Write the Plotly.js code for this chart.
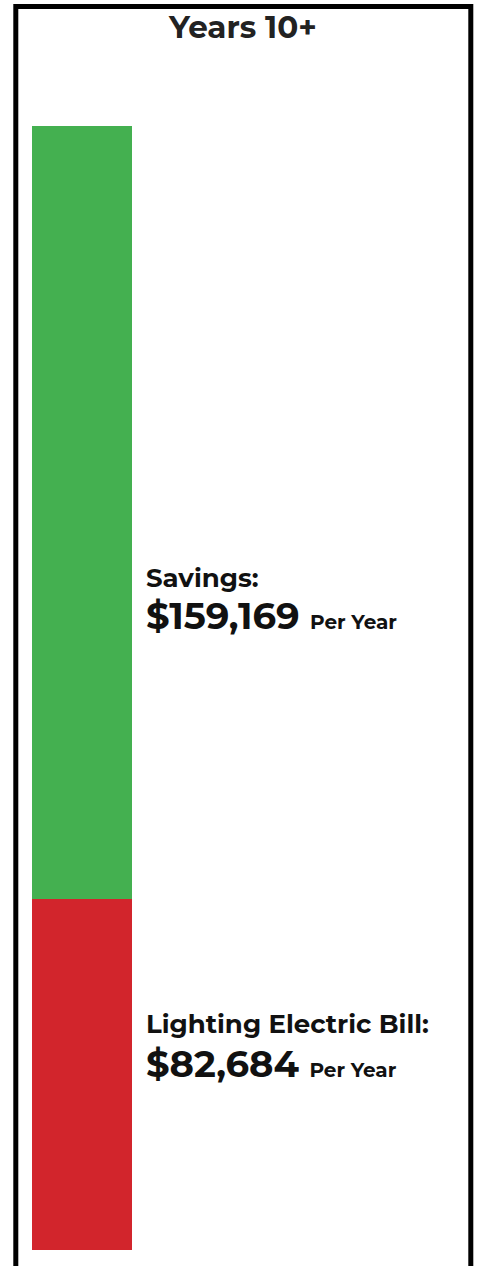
<!DOCTYPE html>
<html>
<head>
<meta charset="utf-8">
<script src="https://cdn.plot.ly/plotly-3.0.1.min.js"></script>
<style>
html,body{margin:0;padding:0;background:#fff;}
#chart{width:478px;height:1266px;}
</style>
</head>
<body>
<div id="chart"></div>
<script>
// Data
const title = "Years 10+";
const billValues = [82684];
const savingsValues = [159169];
const billLabel = "Lighting Electric Bill:";
const savingsLabel = "Savings:";
const unitLabel = "Per Year";

const FONT = "Montserrat, Inter, 'Open Sans', sans-serif";
const fmt = v => "$" + v.toLocaleString("en-US");

const xPos = [0];

const traces = [
  {type: "bar", x: xPos, y: billValues, width: 1, marker: {color: "#D2252C"}, hoverinfo: "none", name: billLabel},
  {type: "bar", x: xPos, y: savingsValues, width: 1, marker: {color: "#44B050"}, hoverinfo: "none", name: savingsLabel}
];

const total = billValues[0] + savingsValues[0];

// pixel helpers for plot area (top 126, bottom 1250, left 32, width 400)
const py = p => (1250 - p) / 1124;
const px = p => (p - 32) / 400;

function nameAnn(name, yMid) {
  return {xref: "paper", yref: "paper", x: px(144), y: py(yMid), xanchor: "left", yanchor: "middle",
    text: "<b>" + name + "</b>", showarrow: false, align: "left",
    font: {family: FONT, size: 26, color: "#111"}};
}
function valueAnn(v, yMid) {
  return {xref: "paper", yref: "paper", x: px(144), y: py(yMid), xanchor: "left", yanchor: "middle",
    text: "<b>" + fmt(v) + " <span style='font-size:20px'>" + unitLabel + "</span></b>", showarrow: false, align: "left",
    font: {family: FONT, size: 37, color: "#111"}};
}

const layout = {
  width: 478, height: 1266,
  margin: {l: 32, r: 46, t: 126, b: 16},
  paper_bgcolor: "#fff", plot_bgcolor: "#fff",
  barmode: "stack",
  showlegend: false,
  font: {family: FONT, color: "#111"},
  title: {text: "<b>" + title + "</b>", font: {family: FONT, size: 31, color: "#222"}, x: 243 / 478, xanchor: "center",
          xref: "container", yref: "container", y: 1 - 27 / 1266, yanchor: "middle"},
  xaxis: {range: [-0.5, 3.5], visible: false, fixedrange: true},
  yaxis: {range: [10504, total], visible: false, fixedrange: true},
  annotations: [
    nameAnn(savingsLabel, 578),
    valueAnn(savingsValues[0], 615),
    nameAnn(billLabel, 1024),
    valueAnn(billValues[0], 1063)
  ],
  shapes: [
    {type: "rect", xref: "paper", yref: "paper",
     x0: px(15.8), x1: px(470.8),
     y0: py(1300), y1: py(6.5),
     line: {color: "#000", width: 5}, fillcolor: "rgba(0,0,0,0)"}
  ]
};

Plotly.newPlot("chart", traces, layout, {displayModeBar: false, staticPlot: true});
</script>
</body>
</html>
